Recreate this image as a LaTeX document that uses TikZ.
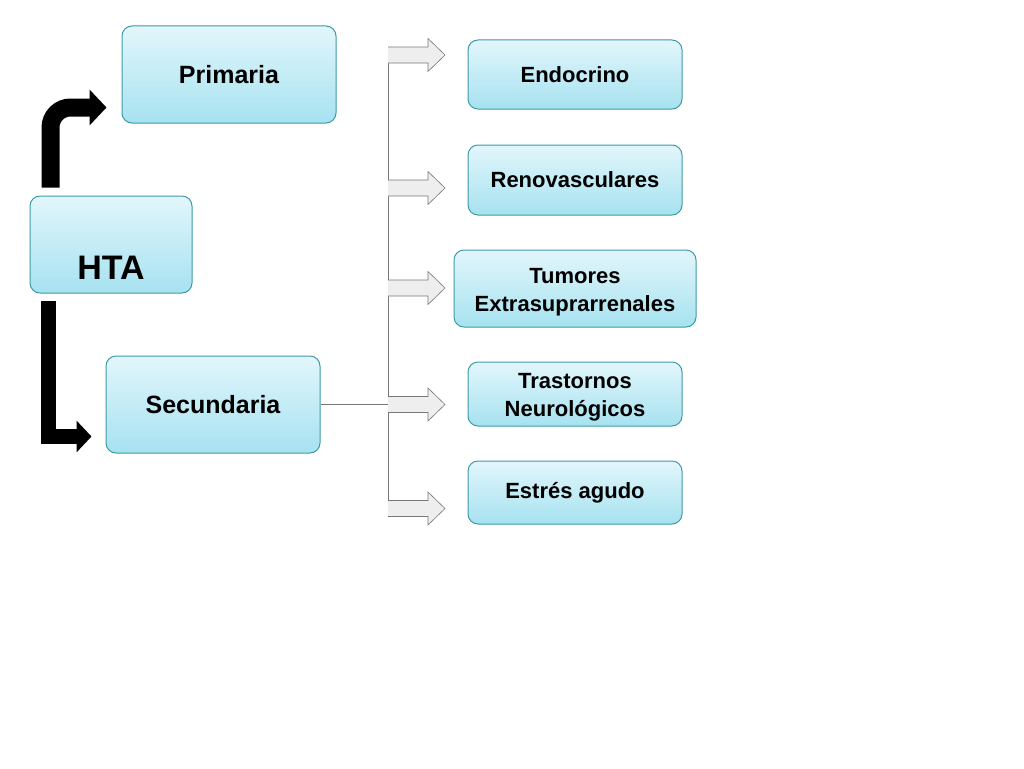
\documentclass[tikz,border=0pt]{standalone}
\usepackage{fontspec}
\setmainfont{Liberation Sans}
\usetikzlibrary{arrows.meta}
\definecolor{boxtop}{RGB}{226,246,251}
\definecolor{boxbot}{RGB}{166,226,240}
\definecolor{boxline}{RGB}{63,154,165}
\definecolor{trunk}{RGB}{120,120,120}
\definecolor{garrowfill}{RGB}{238,238,238}
\tikzset{
  box/.style={rectangle, rounded corners=10pt, draw=boxline, line width=1pt,
    top color=boxtop, bottom color=boxbot, inner sep=0pt, align=center,
    font=\bfseries\fontsize{22}{28}\selectfont},
  bigbox/.style={box, font=\bfseries\fontsize{25}{30}\selectfont},
  trunkline/.style={draw=trunk, line width=0.8pt},
  garrow/.pic={\draw[draw=trunk, fill=garrowfill, line width=0.6pt]
    (0,-8) -- (40,-8) -- (40,-16.5) -- (57,0) -- (40,16.5) -- (40,8) -- (0,8);},
}
\newcommand{\topstrut}{\rule{0pt}{22pt}}
\begin{document}
\begin{tikzpicture}[x=1pt,y=-1pt]
\useasboundingbox (0,0) rectangle (1024,768);
% main boxes
\node[bigbox, minimum width=214pt, minimum height=97pt] (prim) at (229,74.5) {Primaria};
\node[box, minimum width=162pt, minimum height=97pt, text height=70pt, text depth=1pt,
      font=\bfseries\fontsize{34}{40}\selectfont] (hta) at (111,244.5) {HTA};
\node[bigbox, minimum width=214pt, minimum height=97pt] (sec) at (213,404.5) {Secundaria};
% right boxes
\node[box, minimum width=214pt, minimum height=69pt] (endo) at (575,74.5) {Endocrino};
\node[box, minimum width=214pt, minimum height=70pt] (reno) at (575,180) {Renovasculares};
\node[box, minimum width=242pt, minimum height=77pt] (tumo) at (575,288.5) {\topstrut Tumores\\Extrasuprarrenales};
\node[box, minimum width=214pt, minimum height=64pt] (tras) at (575,394) {\topstrut Trastornos\\Neurológicos};
\node[box, minimum width=214pt, minimum height=63pt] (estr) at (575,492.5) {Estrés agudo};
% black bent arrows
\draw[line width=18pt, rounded corners=20pt, -{Triangle[length=17pt,width=35pt]}]
  ([xshift=21pt,yshift=8pt]hta.north west) |- ([xshift=-15pt,yshift=16pt]prim.south west);
\draw[line width=14.5pt, -{Triangle[length=15pt,width=31pt]}]
  ([xshift=19pt,yshift=-7pt]hta.south west) |- ([xshift=-14pt,yshift=-32pt]sec.west);
% trunk
\coordinate (ttop) at (388,47);
\coordinate (tbot) at (388,517);
\draw[trunkline] (sec.east) -- (sec.east -| ttop);
\draw[trunkline] (ttop) -- (tbot);
% block arrows
\pic at (388,55) {garrow};
\pic at (388,188) {garrow};
\pic at (388,288) {garrow};
\pic at (388,404.5) {garrow};
\pic at (388,508.5) {garrow};
\end{tikzpicture}
\end{document}
